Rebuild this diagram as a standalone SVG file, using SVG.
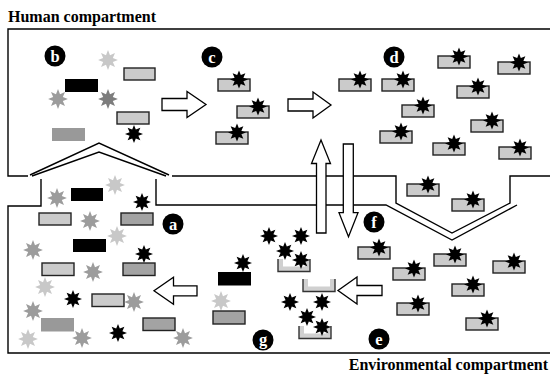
<svg xmlns="http://www.w3.org/2000/svg" xmlns:xlink="http://www.w3.org/1999/xlink" width="550" height="375" viewBox="0 0 550 375">
<style>
.ln{fill:none;stroke:#000;stroke-width:1.4}
.lr{fill:#cbcbcb;stroke:#222;stroke-width:1.4}
.mr{fill:#a3a3a3;stroke:#222;stroke-width:1.4}
.br{fill:#000}
.gr{fill:#999}
.bs{fill:#000}
.ls{fill:#c8c8c8}
.ms{fill:#9c9c9c}
.ds{fill:#7d7d7d}
.ar{fill:#fff;stroke:#000;stroke-width:1.3}
.lab circle{fill:#000}
.lab text{fill:#fff;font-family:"Liberation Serif",serif;font-weight:bold;font-size:16.5px;text-anchor:middle}
.ttl{font-family:"Liberation Serif",serif;font-weight:bold;font-size:16px;fill:#000}
</style>
<defs>
<path id="st" d="M0,-9 L1.82,-4.4 6.36,-6.36 4.4,-1.82 9,0 4.4,1.82 6.36,6.36 1.82,4.4 0,9 -1.82,4.4 -6.36,6.36 -4.4,1.82 -9,0 -4.4,-1.82 -6.36,-6.36 -1.82,-4.4Z"/>
<g id="cp"><rect x="0" y="0" width="32" height="12" fill="#cbcbcb" stroke="#222" stroke-width="1.4"/><use href="#st" x="21" y="0.5" fill="#000"/></g>
<g id="u"><path d="M0,0 H5 V7.5 H27 V0 H32 V12.5 H0 Z" fill="#d0d0d0"/><path d="M0,0 V12.5 H32 V0" fill="none" stroke="#333" stroke-width="1.4"/></g>
</defs>
<rect width="550" height="375" fill="#fff"/>

<text class="ttl" x="8" y="21.5">Human compartment</text>
<text class="ttl" x="548" y="370" text-anchor="end">Environmental compartment</text>

<g id="boundaries">
<path class="ln" d="M550,29 H8 V176 H28 M30,175 L99,143 L169,175 M172,176 H396 V203 L452,233 L510,203 V176 H550"/>
<path class="ln" d="M550,353 H8 V206 H41 V179 M32,176 L99,152 L166,176 M156,179 V205 H386 L452,240 L517,205"/>
</g>

<g id="node-b">
<use href="#st" class="ls" transform="translate(108,60) scale(1.1)"/>
<rect class="lr" x="124" y="68" width="31" height="12"/>
<rect class="br" x="65" y="79" width="33" height="13"/>
<use href="#st" class="ms" transform="translate(58,99) scale(1.1)"/>
<use href="#st" class="ds" transform="translate(108,99) scale(1.1)"/>
<rect class="lr" x="117" y="112" width="32" height="12"/>
<rect class="gr" x="52" y="128" width="33" height="13"/>
<use href="#st" class="bs" x="134" y="134"/>
<g class="lab"><circle cx="55" cy="56" r="10.5"/><text x="55" y="61.5">b</text></g>
</g>

<g id="node-c">
<use href="#cp" x="218" y="79"/>
<use href="#cp" x="237" y="106"/>
<use href="#cp" x="216" y="132"/>
<g class="lab"><circle cx="212" cy="57" r="10.5"/><text x="212" y="62.5">c</text></g>
</g>

<g id="node-d">
<use href="#cp" x="339" y="79"/>
<use href="#cp" x="382" y="79"/>
<use href="#cp" x="438" y="56"/>
<use href="#cp" x="498" y="62"/>
<use href="#cp" x="457" y="86"/>
<use href="#cp" x="402" y="105"/>
<use href="#cp" x="471" y="120"/>
<use href="#cp" x="380" y="131"/>
<use href="#cp" x="433" y="143"/>
<use href="#cp" x="499" y="147"/>
<g class="lab"><circle cx="394" cy="57" r="10.5"/><text x="394" y="62.5">d</text></g>
</g>

<g id="node-a">
<rect class="br" x="71" y="188" width="32" height="13"/>
<use href="#st" class="ms" transform="translate(57,198) scale(1.1)"/>
<use href="#st" class="ls" transform="translate(115,185) scale(1.1)"/>
<use href="#st" class="bs" x="142" y="202"/>
<rect class="lr" x="39" y="213" width="32" height="12"/>
<use href="#st" class="ms" transform="translate(90,221) scale(1.1)"/>
<rect class="mr" x="121" y="213" width="32" height="12"/>
<use href="#st" class="ls" transform="translate(117,236) scale(1.1)"/>
<rect class="br" x="73" y="239" width="33" height="13"/>
<use href="#st" class="ms" transform="translate(33,250) scale(1.1)"/>
<use href="#st" class="bs" x="144" y="254"/>
<rect class="lr" x="42" y="263" width="32" height="12.5"/>
<use href="#st" class="ms" transform="translate(93,272) scale(1.1)"/>
<rect class="mr" x="123" y="263" width="32" height="12.5"/>
<use href="#st" class="ls" transform="translate(45,287) scale(1.1)"/>
<use href="#st" class="bs" x="73" y="299"/>
<rect class="lr" x="92" y="294" width="32" height="12.5"/>
<use href="#st" class="ms" transform="translate(134,302) scale(1.1)"/>
<use href="#st" class="ms" transform="translate(33,311) scale(1.1)"/>
<rect class="gr" x="41" y="318" width="33" height="13.5"/>
<rect class="mr" x="143" y="318" width="32" height="12.5"/>
<use href="#st" class="ls" transform="translate(28,339) scale(1.1)"/>
<use href="#st" class="ms" transform="translate(82,338) scale(1.1)"/>
<use href="#st" class="bs" x="118" y="333"/>
<use href="#st" class="ms" transform="translate(183,338) scale(1.1)"/>
<g class="lab"><circle cx="173" cy="224" r="10.5"/><text x="173" y="229.5">a</text></g>
</g>

<g id="node-g">
<use href="#st" class="bs" x="243" y="263"/>
<rect class="br" x="218" y="272" width="33" height="13.5"/>
<use href="#st" class="ls" transform="translate(221,301) scale(1.1)"/>
<rect class="mr" x="213" y="311" width="32" height="13"/>
<g class="lab"><circle cx="263" cy="340" r="10.5"/><text x="263" y="345">g</text></g>
</g>

<g id="node-mid">
<use href="#st" class="bs" x="269" y="236"/>
<use href="#st" class="bs" x="301" y="236"/>
<use href="#st" class="bs" x="285" y="251"/>
<use href="#u" x="278" y="259"/>
<use href="#st" class="bs" x="301" y="260"/>
<use href="#u" x="303" y="279"/>
<use href="#st" class="bs" x="290" y="302"/>
<use href="#st" class="bs" x="322" y="302"/>
<use href="#u" x="299" y="326"/>
<use href="#st" class="bs" x="307" y="317"/>
<use href="#st" class="bs" x="322" y="327"/>
</g>

<g id="node-e">
<use href="#cp" x="407" y="184"/>
<use href="#cp" x="452" y="199"/>
<use href="#cp" x="358" y="247"/>
<use href="#cp" x="434" y="254"/>
<use href="#cp" x="493" y="261"/>
<use href="#cp" x="393" y="268"/>
<use href="#cp" x="452" y="284"/>
<use href="#cp" x="397" y="303"/>
<use href="#cp" x="466" y="318"/>
<g class="lab"><circle cx="379" cy="339" r="10.5"/><text x="379" y="344.5">e</text></g>
</g>

<g id="node-f">
<g class="lab"><circle cx="374" cy="222" r="10.5"/><text x="374" y="227.5">f</text></g>
</g>

<g id="connectors">
<polygon class="ar" points="162,98.5 187,98.5 187,91.5 206,104.5 187,117.5 187,110.5 162,110.5"/>
<polygon class="ar" points="288,99 313,99 313,92 331,105 313,118 313,111 288,111"/>
<polygon class="ar" points="382,285.5 357,285.5 357,277 338,290.5 357,304 357,295.5 382,295.5"/>
<polygon class="ar" points="197,285.8 173.5,285.8 173.5,277.3 154,290.8 173.5,304.3 173.5,295.8 197,295.8"/>
<polygon class="ar" points="316.5,233 316.5,163.5 311.5,163.5 321,140 330.5,163.5 326,163.5 326,233"/>
<polygon class="ar" points="343.3,144 353.3,144 353.3,212.7 358,212.7 348.5,236.7 339,212.7 343.3,212.7"/>
</g>
</svg>
